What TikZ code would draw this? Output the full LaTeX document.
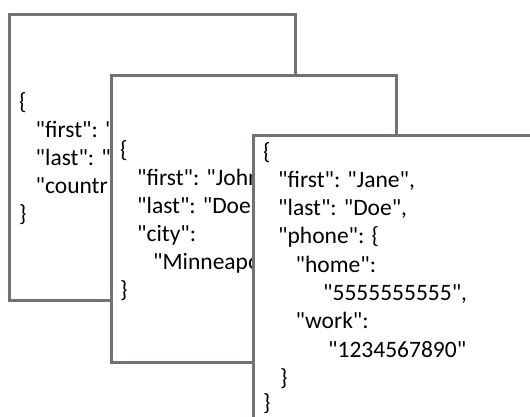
\documentclass[tikz,border=0pt]{standalone}
\usepackage{fontspec}
\newfontfamily\jsonfont{Carlito}
\definecolor{framegray}{RGB}{118,113,113}
\tikzset{
  page/.style={draw=framegray, line width=3pt, fill=white},
  jtext/.style={anchor=base west, inner sep=0pt, font=\jsonfont\fontsize{23.5}{28}\selectfont}
}
\begin{document}
\begin{tikzpicture}[x=1pt,y=-1pt]
\useasboundingbox (0,0) rectangle (530,416);
\clip (0,0) rectangle (530,416);
\fill[white] (0,0) rectangle (530,416);
% first document
\draw[page] (9.5,14.5) rectangle (295,300);
\node[jtext] (a1) at (19,109) {\{};
\node[jtext] (a2) at (35.5,137) {"first": "};
\node[jtext] (a3) at (35.5,165) {"last": "};
\node[jtext] (a4) at (35.5,193) {"countr};
\node[jtext] (a5) at (19,221) {\}};
% second document
\draw[page] (111,75.5) rectangle (396,362);
\node[jtext] (b1) at (120,157) {\{};
\node[jtext] (b2) at (137,185) {"first": "John};
\node[jtext] (b3) at (137,213) {"last": "Doe};
\node[jtext] (b4) at (137,241) {"city":};
\node[jtext] (b5) at (153,269) {"Minneapo};
\node[jtext] (b6) at (120,297) {\}};
% third document
\draw[page] (253.5,135) rectangle (600,500);
\node[jtext] (c1) at (263,159) {\{};
\node[jtext] (c2) at (278,187) {"first": "Jane",};
\node[jtext] (c3) at (278,215) {"last": "Doe",};
\node[jtext] (c4) at (278,243) {"phone": \{};
\node[jtext] (c5) at (295.5,272) {"home":};
\node[jtext] (c6) at (323,300) {"5555555555",};
\node[jtext] (c7) at (295.5,328) {"work":};
\node[jtext] (c8) at (328,357) {"1234567890"};
\node[jtext] (c9) at (280,385) {\}};
\node[jtext] (c10) at (263,410) {\}};
\end{tikzpicture}
\end{document}
